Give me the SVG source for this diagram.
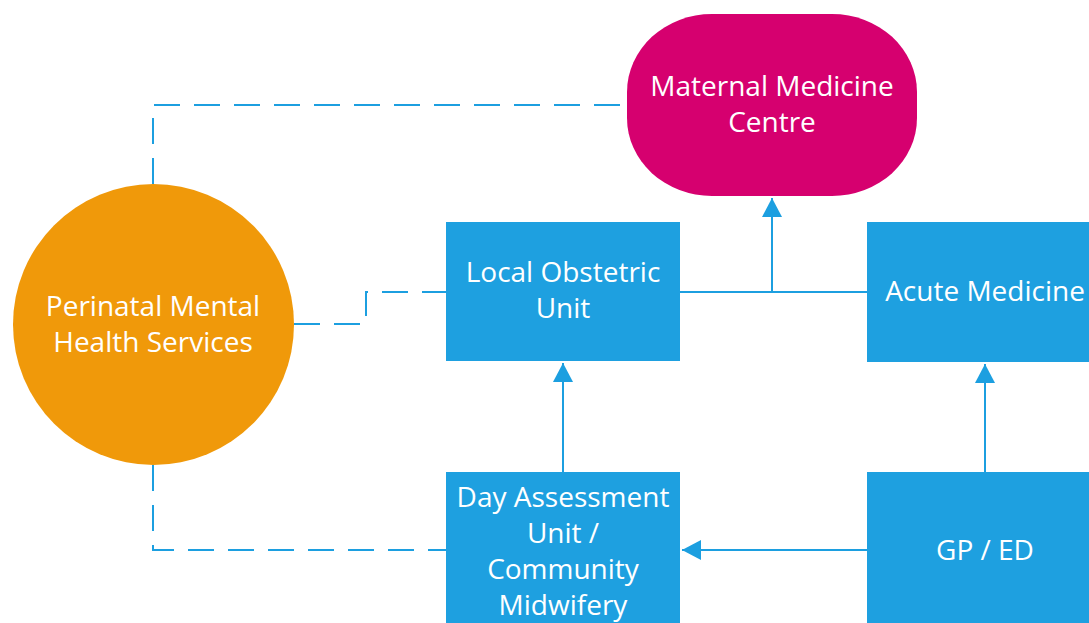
<svg xmlns="http://www.w3.org/2000/svg" width="1089" height="623" viewBox="0 0 1089 623">
<defs>
<style>
.box{fill:#1ea0e0;}
.t{font-family:"Open Sans","Noto Sans",sans-serif;font-size:28px;fill:#ffffff;text-anchor:middle;}
.c{fill:none;stroke:#1c9fe0;stroke-width:2;}
.d{fill:none;stroke:#1c9fe0;stroke-width:2;stroke-dasharray:26 14;}
</style>
<marker id="arr" markerWidth="20" markerHeight="20" refX="19" refY="10" orient="auto" markerUnits="userSpaceOnUse">
<path d="M0,0 L19,10 L0,20 Z" fill="#1c9fe0"/>
</marker>
</defs>
<rect width="1089" height="623" fill="#ffffff"/>
<g id="connectors">
<path class="d" d="M153,184 V105 H627"/>
<path class="d" d="M294,324 H366 V292 H446"/>
<path class="d" d="M153,465 V550 H446"/>
<path class="c" d="M680,292 H867"/>
<path class="c" d="M772,292 V198" marker-end="url(#arr)"/>
<path class="c" d="M563,472 V363" marker-end="url(#arr)"/>
<path class="c" d="M985,472 V364" marker-end="url(#arr)"/>
<path class="c" d="M867,550 H682" marker-end="url(#arr)"/>
</g>
<g id="mmc">
<rect x="627" y="14" width="290" height="182" rx="85" ry="78" fill="#d6006f"/>
<text class="t" x="772" y="96">Maternal Medicine</text>
<text class="t" x="772" y="132">Centre</text>
</g>
<g id="pmhs">
<circle cx="153.5" cy="324.5" r="140.5" fill="#f0990a"/>
<text class="t" x="153" y="316">Perinatal Mental</text>
<text class="t" x="153" y="352">Health Services</text>
</g>
<g id="lou">
<rect class="box" x="446" y="222" width="234" height="139"/>
<text class="t" x="563" y="282">Local Obstetric</text>
<text class="t" x="563" y="318">Unit</text>
</g>
<g id="acute">
<rect class="box" x="867" y="222" width="236" height="140"/>
<text class="t" x="985" y="301">Acute Medicine</text>
</g>
<g id="dau">
<rect class="box" x="446" y="472" width="234" height="160"/>
<text class="t" x="563" y="507">Day Assessment</text>
<text class="t" x="563" y="543">Unit /</text>
<text class="t" x="563" y="579">Community</text>
<text class="t" x="563" y="615">Midwifery</text>
</g>
<g id="gped">
<rect class="box" x="867" y="472" width="236" height="160"/>
<text class="t" x="985" y="560">GP / ED</text>
</g>
</svg>
